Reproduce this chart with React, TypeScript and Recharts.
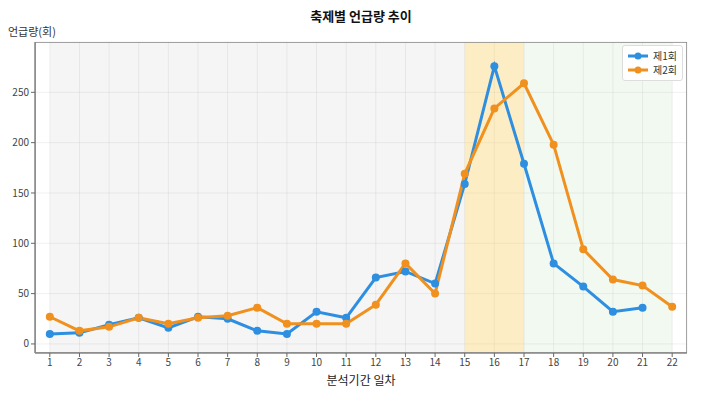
import React from "react";
import {
  LineChart,
  Line,
  XAxis,
  YAxis,
  CartesianGrid,
  ReferenceArea,
} from "recharts";

const days = [1, 2, 3, 4, 5, 6, 7, 8, 9, 10, 11, 12, 13, 14, 15, 16, 17, 18, 19, 20, 21, 22];
const round1 = [10, 11, 19, 26, 16, 27, 25, 13, 10, 32, 26, 66, 72, 60, 159, 276, 179, 80, 57, 32, 36, null];
const round2 = [27, 13, 17, 26, 20, 26, 28, 36, 20, 20, 20, 39, 80, 50, 169, 234, 259, 198, 94, 64, 58, 37];
const yTicks = [0, 50, 100, 150, 200, 250];
const seriesNames = ["제1회", "제2회"];
const colors = ["#2e8fe0", "#f0901e"];

const data = days.map((d, i) => ({ day: d, r1: round1[i], r2: round2[i] }));

const tickFont = { fill: "#444", fontSize: 10, fontFamily: "'Liberation Sans Narrow', 'Noto Sans CJK KR', sans-serif" };
const kr = "'Noto Sans CJK KR', 'Noto Sans', sans-serif";

// legend drawn as an overlay so it doesn't eat plot width
const LegendBox = () => (
  <div
    style={{
      position: "absolute",
      right: 30,
      top: 45,
      background: "rgba(255,255,255,0.92)",
      border: "1px solid #ddd",
      borderRadius: 3,
      padding: "3px 5px",
      fontFamily: kr,
      fontSize: 10,
      color: "#333",
      lineHeight: "14px",
    }}
  >
    {seriesNames.map((n, i) => (
      <div key={n} style={{ display: "flex", alignItems: "center", gap: 5 }}>
        <svg width={20} height={8}>
          <line x1={0} y1={4} x2={20} y2={4} stroke={colors[i]} strokeWidth={3} />
          <circle cx={10} cy={4} r={3.5} fill={colors[i]} />
        </svg>
        <span>{n}</span>
      </div>
    ))}
  </div>
);

export default function App() {
  return (
    <div style={{ position: "absolute", left: 0, top: 0, width: 713, height: 394, background: "#fff" }}>
      <LineChart
        width={713}
        height={394}
        data={data}
        margin={{ top: 42, right: 26, left: 0, bottom: 0 }}
        style={{ position: "absolute", left: 0, top: 0 }}
      >
        <ReferenceArea x1={1} x2={15} y1={-9} y2={300} fill="#000" fillOpacity={0.04} stroke="none" ifOverflow="hidden" />
        <ReferenceArea x1={15} x2={17} y1={-9} y2={300} fill="#f9c84a" fillOpacity={0.32} stroke="none" ifOverflow="hidden" />
        <ReferenceArea x1={17} x2={22} y1={-9} y2={300} fill="#7cc47a" fillOpacity={0.1} stroke="none" ifOverflow="hidden" />
        <CartesianGrid stroke="#000" strokeOpacity={0.06} />
        <ReferenceArea x1={0.5} x2={22.5} y1={-9} y2={300} fill="none" stroke="#888" strokeWidth={1.5} ifOverflow="hidden" />
        <XAxis
          dataKey="day"
          type="number"
          domain={[0.5, 22.5]}
          ticks={days}
          interval={0}
          allowDataOverflow
          height={41}
          axisLine={{ stroke: "#888", strokeWidth: 1.5 }}
          tickLine={{ stroke: "#666" }}
          tickSize={4}
          tick={tickFont}
        />
        <YAxis
          type="number"
          domain={[-9, 300]}
          ticks={yTicks}
          allowDataOverflow
          width={35}
          axisLine={{ stroke: "#888", strokeWidth: 1.5 }}
          tickLine={{ stroke: "#666" }}
          tickSize={4}
          tick={tickFont}
        />
        <Line
          dataKey="r1"
          name={seriesNames[0]}
          stroke={colors[0]}
          strokeWidth={3}
          dot={{ r: 4, fill: colors[0], stroke: colors[0], strokeWidth: 0 }}
          activeDot={false}
          isAnimationActive={false}
        />
        <Line
          dataKey="r2"
          name={seriesNames[1]}
          stroke={colors[1]}
          strokeWidth={3}
          dot={{ r: 4, fill: colors[1], stroke: colors[1], strokeWidth: 0 }}
          activeDot={false}
          isAnimationActive={false}
        />
      </LineChart>
      <div
        style={{
          position: "absolute",
          left: 0,
          width: 722,
          top: 6,
          textAlign: "center",
          fontFamily: kr,
          fontWeight: 700,
          fontSize: 13,
          color: "#111",
        }}
      >
        축제별 언급량 추이
      </div>
      <div style={{ position: "absolute", left: 8, top: 23, fontFamily: kr, fontSize: 11, color: "#333" }}>
        언급량(회)
      </div>
      <div
        style={{
          position: "absolute",
          left: 0,
          width: 722,
          top: 371,
          textAlign: "center",
          fontFamily: kr,
          fontSize: 12,
          color: "#222",
        }}
      >
        분석기간 일차
      </div>
      <LegendBox />
    </div>
  );
}
